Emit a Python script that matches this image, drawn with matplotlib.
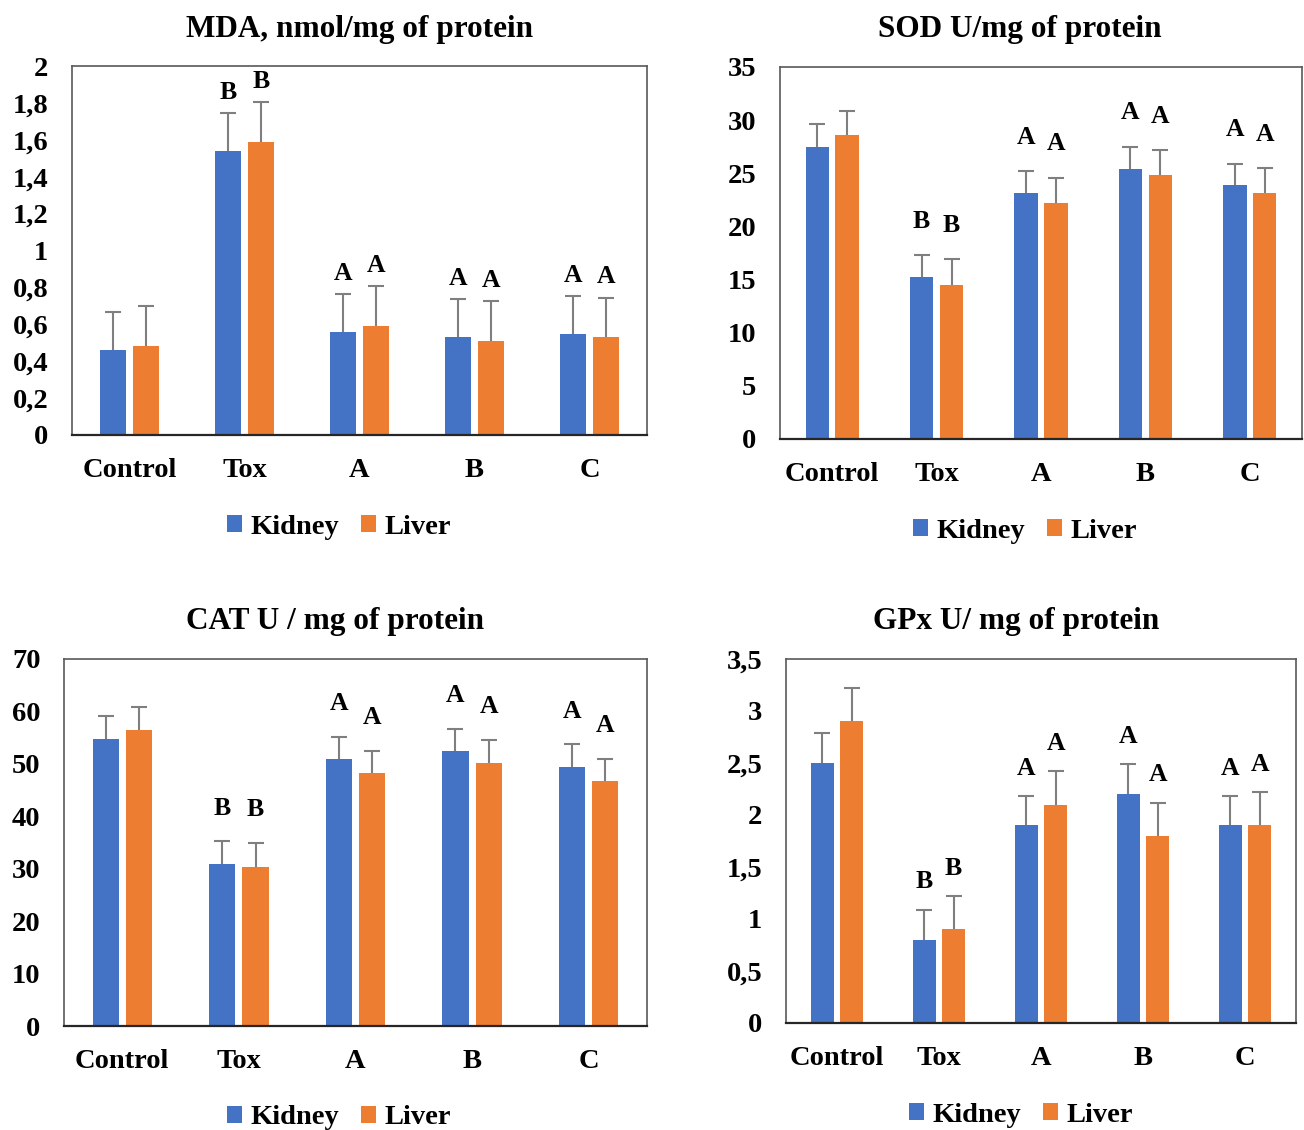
import matplotlib
matplotlib.use("Agg")
import matplotlib.pyplot as plt
import numpy as np
from matplotlib.ticker import FuncFormatter, MultipleLocator
from matplotlib.patches import Patch

plt.rcParams['font.family'] = ['Liberation Serif', 'DejaVu Serif']
plt.rcParams['font.weight'] = 'bold'

groups = ["Control", "Tox", "A", "B", "C"]
series = ["Kidney", "Liver"]
letters = ["", "B", "A", "A", "A"]

mda_kidney = [0.46, 1.54, 0.56, 0.53, 0.55]
mda_kidney_sd = [0.205, 0.205, 0.205, 0.205, 0.205]
mda_liver = [0.48, 1.59, 0.59, 0.51, 0.53]
mda_liver_sd = [0.22, 0.215, 0.215, 0.215, 0.215]

sod_kidney = [27.45, 15.2, 23.15, 25.4, 23.9]
sod_kidney_sd = [2.15, 2.1, 2.05, 2.1, 2.0]
sod_liver = [28.6, 14.5, 22.2, 24.8, 23.15]
sod_liver_sd = [2.3, 2.4, 2.4, 2.4, 2.35]

cat_kidney = [54.8, 30.9, 50.9, 52.4, 49.4]
cat_kidney_sd = [4.4, 4.3, 4.3, 4.3, 4.3]
cat_liver = [56.4, 30.4, 48.2, 50.2, 46.7]
cat_liver_sd = [4.4, 4.5, 4.3, 4.4, 4.3]

gpx_kidney = [2.5, 0.8, 1.9, 2.2, 1.9]
gpx_kidney_sd = [0.29, 0.29, 0.28, 0.29, 0.28]
gpx_liver = [2.9, 0.9, 2.1, 1.8, 1.9]
gpx_liver_sd = [0.32, 0.32, 0.32, 0.32, 0.32]

titles = ["MDA, nmol/mg of protein", "SOD U/mg of protein",
          "CAT U / mg of protein", "GPx U/ mg of protein"]

BLUE = "#4472C4"
ORANGE = "#ED7D31"
W, H = 1304, 1130

fig = plt.figure(figsize=(W / 100, H / 100), dpi=100)

# panel layout in pixels: left, right, top, bottom, title_x, legend_x
layouts = [
    (72, 647, 66, 435, 360, 339),
    (780, 1302, 67, 439, 1020, 1025),
    (64, 647, 659, 1026, 335, 339),
    (786, 1296, 659, 1023, 1016, 1021),
]
panels = [
    (mda_kidney, mda_kidney_sd, mda_liver, mda_liver_sd, 2.0, 0.2, 0.056),
    (sod_kidney, sod_kidney_sd, sod_liver, sod_liver_sd, 35, 5, 0.091),
    (cat_kidney, cat_kidney_sd, cat_liver, cat_liver_sd, 70, 10, 0.09),
    (gpx_kidney, gpx_kidney_sd, gpx_liver, gpx_liver_sd, 3.5, 0.5, 0.077),
]


def fmt(v, pos):
    s = ("%.1f" % v).rstrip("0").rstrip(".")
    return s.replace(".", ",")


x = np.arange(len(groups))
bw = 0.225
off = 0.143

for (l, r, t, b, tx, lx), (kv, ks, lv, ls, ymax, step, pad), title in zip(layouts, panels, titles):
    ax = fig.add_axes([l / W, 1 - b / H, (r - l) / W, (b - t) / H])
    ek = dict(ecolor="#7f7f7f", elinewidth=1.5, capsize=6, capthick=1.5)
    for xs, vals, sds, col in ((x - off, kv, ks, BLUE), (x + off, lv, ls, ORANGE)):
        cont = ax.bar(xs, vals, bw, color=col, yerr=[np.zeros(len(sds)), sds],
                      error_kw=ek, zorder=2)
        caplines = cont.errorbar.lines[1]
        if len(caplines) > 1:
            caplines[0].set_visible(False)
    for i, let in enumerate(letters):
        if not let:
            continue
        for xc, v, s in ((x[i] - off, kv[i], ks[i]), (x[i] + off, lv[i], ls[i])):
            ax.text(xc, v + s + pad * ymax, let, ha="center", va="center",
                    fontsize=18.5, fontweight="bold")
    ax.set_xlim(-0.5, len(groups) - 0.5)
    ax.set_ylim(0, ymax)
    ax.yaxis.set_major_locator(MultipleLocator(step))
    ax.yaxis.set_major_formatter(FuncFormatter(fmt))
    ax.set_xticks(x)
    ax.set_xticklabels(groups)
    ax.tick_params(axis="both", length=0, labelsize=20.5)
    ax.tick_params(axis="x", pad=16.5)
    ax.tick_params(axis="y", pad=17)
    for lab in ax.get_xticklabels() + ax.get_yticklabels():
        lab.set_fontweight("bold")
    for sp in ["top", "left", "right"]:
        ax.spines[sp].set_color("#595959")
        ax.spines[sp].set_linewidth(1.2)
    ax.spines["bottom"].set_color("#262626")
    ax.spines["bottom"].set_linewidth(1.6)

    fig.text(tx / W, 1 - (t - 37) / H, title, ha="center", va="center",
             fontsize=22.5, fontweight="bold")

    handles = [Patch(facecolor=BLUE, label=series[0]),
               Patch(facecolor=ORANGE, label=series[1])]
    fig.legend(handles=handles, loc="center", ncol=2,
               bbox_to_anchor=(lx / W, 1 - (b + 92) / H),
               frameon=False, prop={"size": 20.5, "weight": "bold"},
               handlelength=0.5, handleheight=0.5, handletextpad=0.3,
               columnspacing=0.8, borderpad=0, borderaxespad=0)

fig.savefig("out.png", dpi=100)
